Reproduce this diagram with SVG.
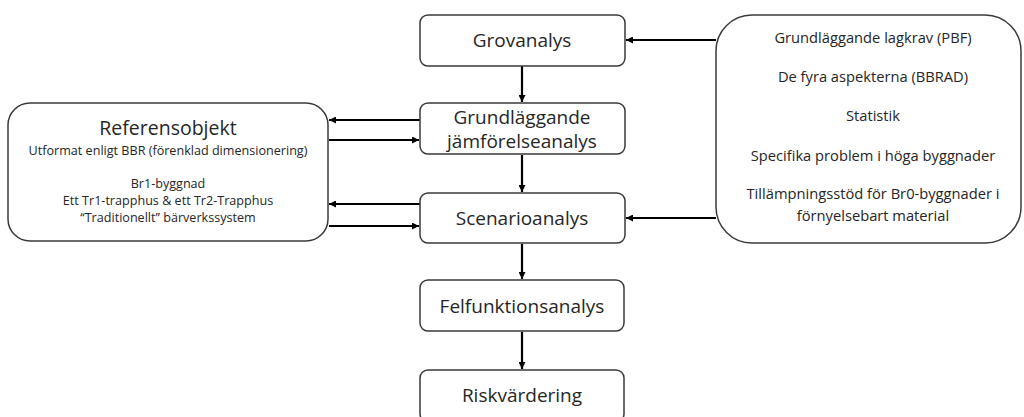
<svg xmlns="http://www.w3.org/2000/svg" width="1024" height="417" viewBox="0 0 1024 417">
<defs>
<marker id="ah" viewBox="0 0 10 10" refX="10" refY="5" markerWidth="7" markerHeight="7" markerUnits="userSpaceOnUse" orient="auto">
<path d="M0,0 L10,5 L0,10 z" fill="#000"/>
</marker>
<style>
.box{fill:#fff;stroke:#3a3a3a;stroke-width:1.5}
.t{font-family:"Open Sans","Liberation Sans",sans-serif;fill:#262626;text-anchor:middle}
.m{font-size:19px}
.s{font-size:12.6px}
.r{font-size:14.7px}
.c{stroke:#000;stroke-width:2.2;fill:none;marker-end:url(#ah)}
</style>
</defs>
<rect width="1024" height="417" fill="#fff"/>
<g id="connectors">
<path class="c" d="M522,66 V102"/>
<path class="c" d="M522,155 V192"/>
<path class="c" d="M522,244 V279"/>
<path class="c" d="M522,332 V369"/>
<path class="c" d="M716,40 H626"/>
<path class="c" d="M716,218 H626"/>
<path class="c" d="M420,120 H329"/>
<path class="c" d="M329,140 H419"/>
<path class="c" d="M420,204 H329"/>
<path class="c" d="M329,226 H419"/>
</g>
<g id="grovanalys">
<rect class="box" x="420" y="15" width="205" height="51" rx="8"/>
<text class="t m" x="522" y="47">Grovanalys</text>
</g>
<g id="grundlaggande">
<rect class="box" x="420" y="103" width="205" height="51" rx="8"/>
<text class="t m" x="522" y="124">Grundläggande</text>
<text class="t m" x="522" y="148">jämförelseanalys</text>
</g>
<g id="scenarioanalys">
<rect class="box" x="420" y="193" width="205" height="50" rx="8"/>
<text class="t m" x="522" y="225">Scenarioanalys</text>
</g>
<g id="felfunktionsanalys">
<rect class="box" x="420" y="280" width="204" height="51" rx="8"/>
<text class="t m" x="522" y="313">Felfunktionsanalys</text>
</g>
<g id="riskvardering">
<rect class="box" x="420" y="370" width="204" height="52" rx="8"/>
<text class="t m" x="522" y="402">Riskvärdering</text>
</g>
<g id="referensobjekt">
<rect class="box" x="8" y="103" width="320" height="138" rx="22"/>
<text class="t" x="168" y="135" font-size="19.5">Referensobjekt</text>
<text class="t s" x="168" y="155">Utformat enligt BBR (förenklad dimensionering)</text>
<text class="t s" x="168" y="188">Br1-byggnad</text>
<text class="t s" x="168" y="205">Ett Tr1-trapphus &amp; ett Tr2-Trapphus</text>
<text class="t s" x="168" y="222">“Traditionellt” bärverkssystem</text>
</g>
<g id="underlag">
<rect class="box" x="716" y="15" width="305" height="228" rx="36"/>
<text class="t r" x="873" y="43">Grundläggande lagkrav (PBF)</text>
<text class="t r" x="873" y="82">De fyra aspekterna (BBRAD)</text>
<text class="t r" x="873" y="121">Statistik</text>
<text class="t r" x="873" y="161">Specifika problem i höga byggnader</text>
<text class="t r" x="873" y="199">Tillämpningsstöd för Br0-byggnader i</text>
<text class="t r" x="873" y="221">förnyelsebart material</text>
</g>
</svg>
